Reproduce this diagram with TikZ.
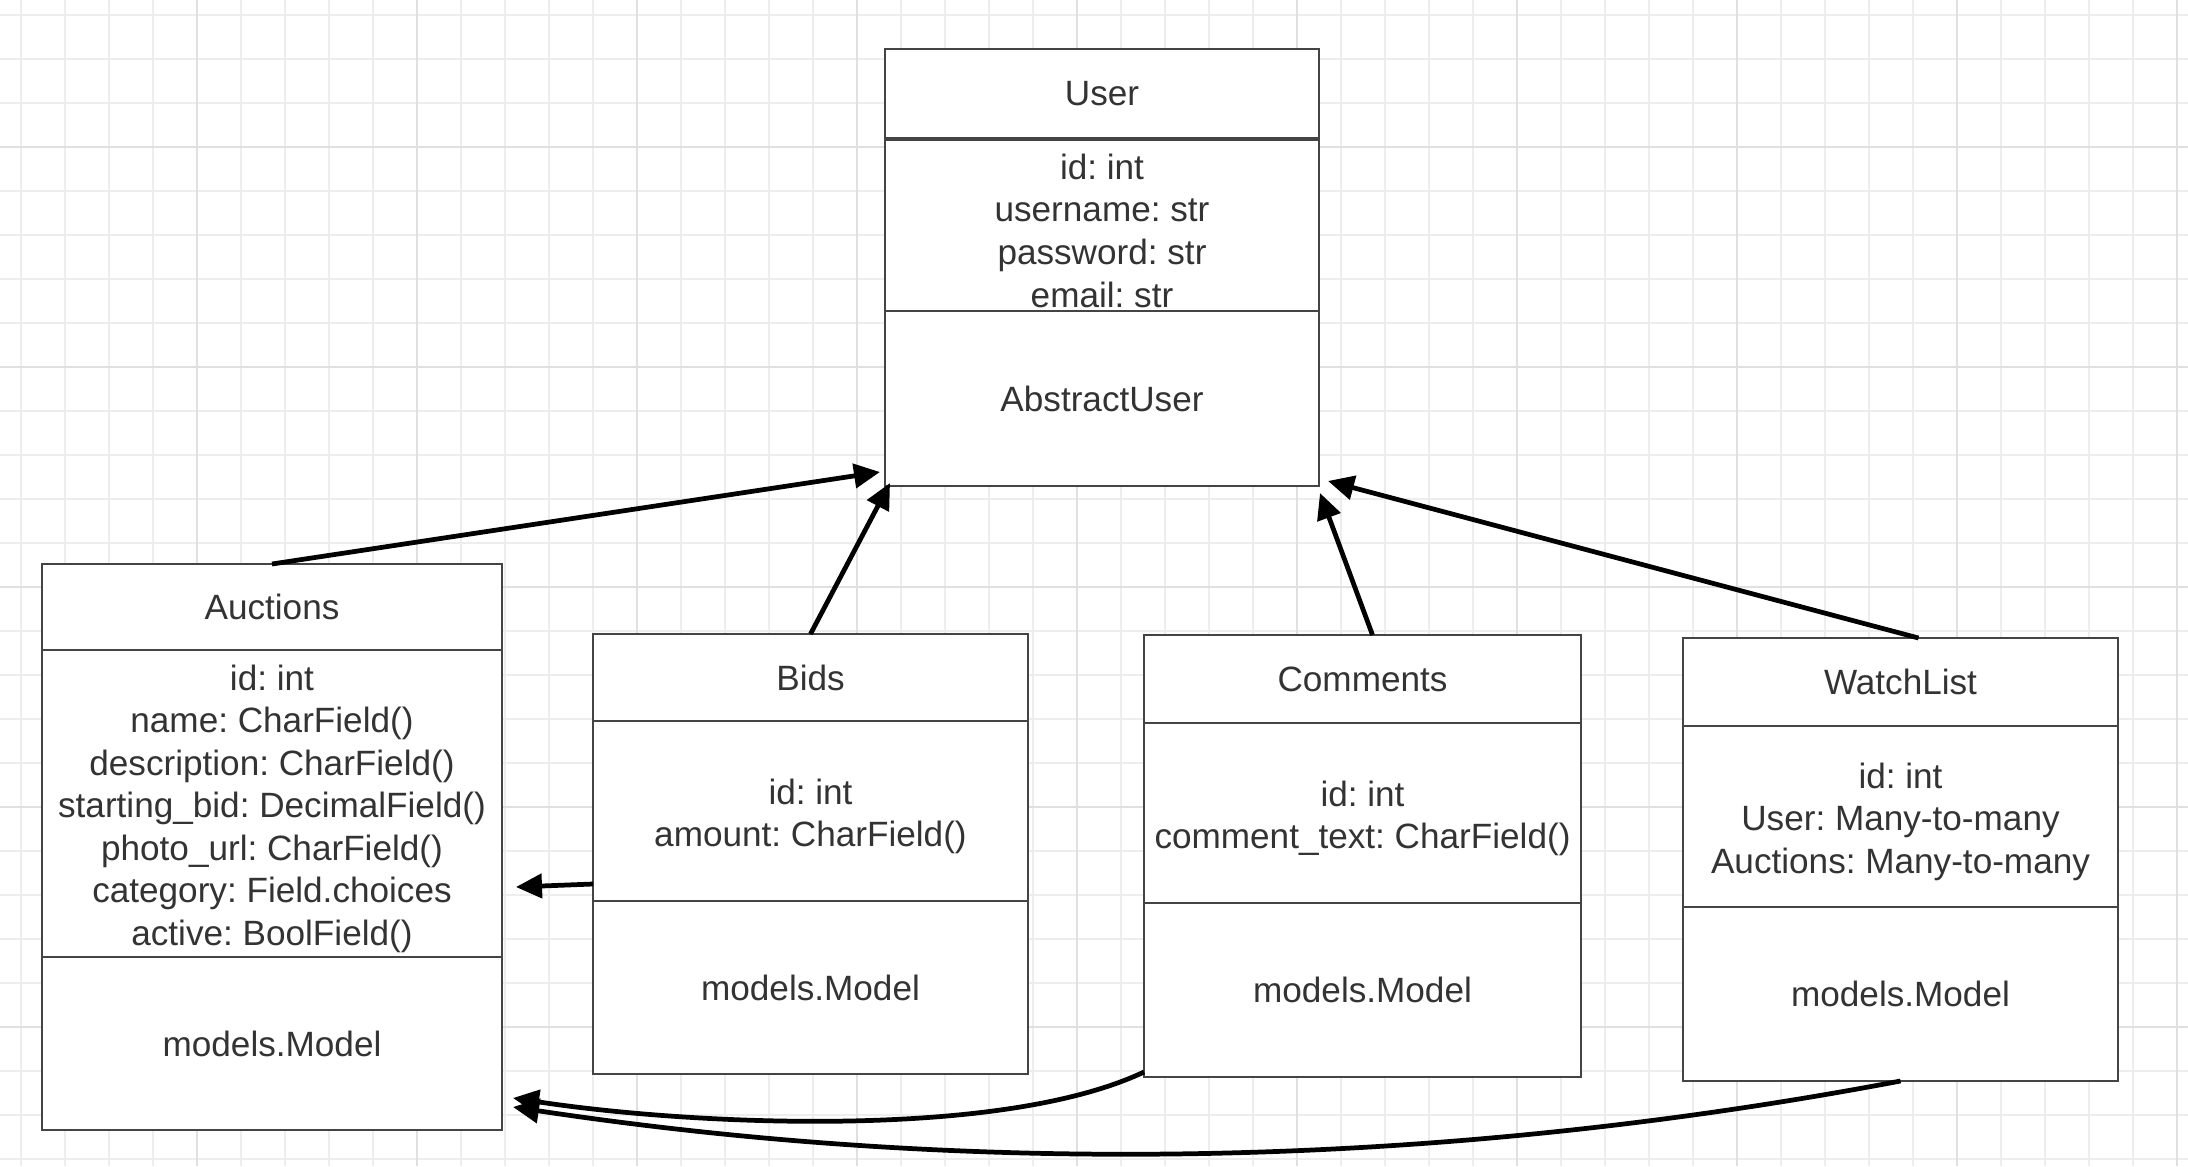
\documentclass[tikz,border=0pt]{standalone}
\usepackage{fontspec}
\setmainfont{Liberation Sans}
\usepackage{xcolor}
\usepackage{tikz}
\newcommand*{\bajar}{\rule{0pt}{10.2pt}}
\usetikzlibrary{arrows.meta}
\usetikzlibrary{positioning}
\definecolor{borde}{HTML}{444444}
\definecolor{texto}{HTML}{333333}
\definecolor{rejillaA}{HTML}{EDEDED}
\definecolor{rejillaB}{HTML}{E0E0E0}
\tikzset{
clase/.style={draw=borde,fill=white,line width=0.6pt,outer sep=0pt,inner sep=0pt,align=center,text=texto,font=\fontsize{10}{12.1}\selectfont\frenchspacing},
flecha/.style={line width=1.35pt,-{Triangle[length=0.26cm,width=0.24cm]}},
rejilla/.style={rejillaA,line width=0.55pt},
rejillamayor/.style={rejillaB,line width=0.6pt}
}

\begin{document}
\begin{tikzpicture}[x=1cm,y=-1cm]
\useasboundingbox(0,0)rectangle(21.88,11.66);
\fill[white](0,0)rectangle(21.88,11.66);
\foreach\i in{0,...,49}\draw[rejilla]({0.21+0.44*\i},0)--++(0,11.66);
\foreach\j in{0,...,26}\draw[rejilla](0,{0.15+0.44*\j})--++(21.88,0);
\foreach\i in{0,...,9}\draw[rejillamayor]({1.97+2.2*\i},0)--++(0,11.66);
\foreach\j in{0,...,4}\draw[rejillamayor](0,{1.47+2.2*\j})--++(21.88,0);

\node[clase,minimum width=4.34cm,minimum height=0.89cm,anchor=north west](userT)at(8.85,0.49){User};
\node[clase,minimum width=4.34cm,minimum height=1.71cm,below=0.02cm of userT](userA){\bajar id: int\\username: str\\password: str\\email: str};
\node[clase,minimum width=4.34cm,minimum height=1.75cm,below=0pt of userA](userB){AbstractUser};

\node[clase,minimum width=4.60cm,minimum height=0.86cm,anchor=north west](aucT)at(0.42,5.64){Auctions};
\node[clase,minimum width=4.60cm,minimum height=3.07cm,below=0pt of aucT](aucA){\bajar id: int\\name: CharField()\\description: CharField()\\starting\_bid: DecimalField()\\photo\_url: CharField()\\category: Field.choices\\active: BoolField()};
\node[clase,minimum width=4.60cm,minimum height=1.73cm,below=0pt of aucA](aucB){models.Model};

\node[clase,minimum width=4.35cm,minimum height=0.87cm,anchor=north west](bidT)at(5.93,6.34){Bids};
\node[clase,minimum width=4.35cm,minimum height=1.80cm,below=0pt of bidT](bidA){\bajar id: int\\amount: CharField()};
\node[clase,minimum width=4.35cm,minimum height=1.73cm,below=0pt of bidA](bidB){models.Model};

\node[clase,minimum width=4.37cm,minimum height=0.88cm,anchor=north west](comT)at(11.44,6.35){Comments};
\node[clase,minimum width=4.37cm,minimum height=1.80cm,below=0pt of comT](comA){\bajar id: int\\comment\_text: CharField()};
\node[clase,minimum width=4.37cm,minimum height=1.74cm,below=0pt of comA](comB){models.Model};

\node[clase,minimum width=4.35cm,minimum height=0.88cm,anchor=north west](watT)at(16.83,6.38){WatchList};
\node[clase,minimum width=4.35cm,minimum height=1.81cm,below=0pt of watT](watA){\bajar id: int\\User: Many-to-many\\Auctions: Many-to-many};
\node[clase,minimum width=4.35cm,minimum height=1.74cm,below=0pt of watA](watB){models.Model};

\coordinate(tAU)at(8.80,4.72);
\coordinate(tBU)at(8.90,4.83);
\coordinate(tCU)at(13.20,4.93);
\coordinate(tWU)at(13.28,4.81);
\coordinate(tBA)at(5.16,8.87);
\coordinate(tCA)at(5.13,10.98);
\coordinate(tWA)at(5.13,11.07);

\draw[flecha](aucT.north)--(tAU);
\draw[flecha](bidT.north)--(tBU);
\draw[flecha]([xshift=0.1cm]comT.north)--(tCU);
\draw[flecha]([xshift=0.18cm]watT.north)--(tWU);
\draw[flecha]([yshift=0.17cm]bidA.south west)--(tBA);
\draw[flecha]([yshift=0.05cm]comB.south west)..controls(10.0,11.40)and(6.9,11.25)..(tCA);
\draw[flecha](watB.south)..controls(14.42,11.68)and(9.78,11.77)..(tWA);

\end{tikzpicture}
\end{document}
